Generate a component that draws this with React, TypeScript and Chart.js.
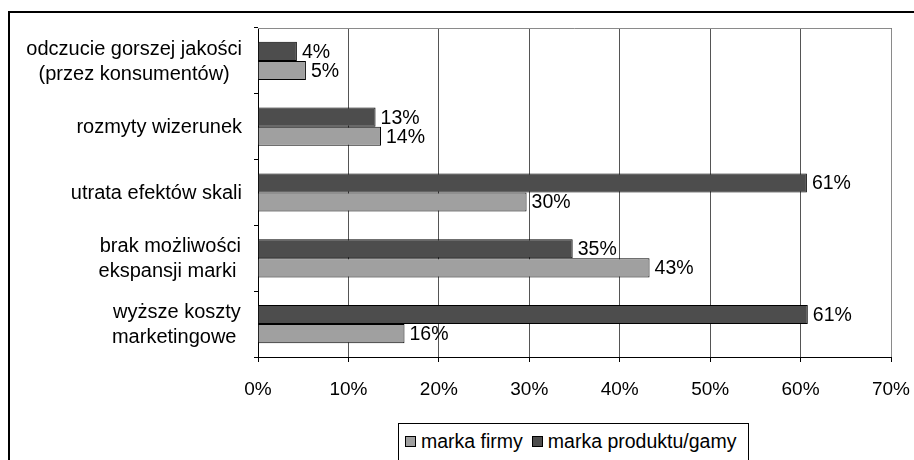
import React, { useEffect, useRef } from "react";
import { Chart, registerables } from "chart.js";

Chart.register(...registerables);

// Categories (multi-line labels, top to bottom)
const categories: string[][] = [
  ["odczucie gorszej jakości", "(przez konsumentów)"],
  ["rozmyty wizerunek"],
  ["utrata efektów skali"],
  ["brak możliwości", "ekspansji marki "],
  ["wyższe koszty", "marketingowe "],
];

// Share of answers, %
const productBrand: number[] = [4.3, 13.0, 60.7, 34.8, 60.8]; // marka produktu/gamy
const companyBrand: number[] = [5.3, 13.6, 29.7, 43.3, 16.2]; // marka firmy

const seriesNames = { company: "marka firmy", product: "marka produktu/gamy" };
const seriesColors = { company: "#a0a0a0", product: "#4d4d4d" };

const xMin = 0;
const xMax = 70;
const xStep = 10;

const FONT = "'Liberation Sans', Arial, sans-serif";

const valueLabels = {
  id: "valueLabels",
  afterDatasetsDraw(chart: any) {
    const ctx = chart.ctx;
    ctx.save();
    ctx.font = `19.5px ${FONT}`;
    ctx.fillStyle = "#000";
    ctx.textAlign = "left";
    ctx.textBaseline = "middle";
    chart.data.datasets.forEach((ds: any, di: number) => {
      const meta = chart.getDatasetMeta(di);
      meta.data.forEach((bar: any, i: number) => {
        const v = ds.data[i] as number;
        ctx.fillText(`${Math.round(v)}%`, bar.x + 5, bar.y + 1);
      });
    });
    ctx.restore();
  },
};

const categoryLabels = {
  id: "categoryLabels",
  afterDraw(chart: any) {
    const ctx = chart.ctx;
    const yScale = chart.scales.y;
    const right = chart.chartArea.left - 16;
    const lh = 25;
    ctx.save();
    ctx.font = `20px ${FONT}`;
    ctx.fillStyle = "#000";
    ctx.textAlign = "center";
    ctx.textBaseline = "middle";
    categories.forEach((lines, i) => {
      const y = yScale.getPixelForTick(i);
      const maxW = Math.max(...lines.map((l) => ctx.measureText(l).width));
      const cx = right - maxW / 2;
      const y0 = y - ((lines.length - 1) * lh) / 2 + 1;
      lines.forEach((l, k) => ctx.fillText(l, cx, y0 + k * lh));
    });
    ctx.restore();
  },
};

const plotFrame = {
  id: "plotFrame",
  beforeDatasetsDraw(chart: any) {
    const { ctx, chartArea } = chart;
    ctx.save();
    ctx.strokeStyle = "#8a8a8a";
    ctx.lineWidth = 1;
    ctx.beginPath();
    ctx.moveTo(chartArea.left, chartArea.top + 0.5);
    ctx.lineTo(chartArea.right + 0.5, chartArea.top + 0.5);
    ctx.lineTo(chartArea.right + 0.5, chartArea.bottom);
    ctx.stroke();
    ctx.restore();
  },
};

export default function App() {
  const canvasRef = useRef<HTMLCanvasElement | null>(null);

  useEffect(() => {
    if (!canvasRef.current) return;
    const chart = new Chart(canvasRef.current, {
      type: "bar",
      data: {
        labels: categories.map((c) => c.join(" ")),
        datasets: [
          {
            label: seriesNames.product,
            data: productBrand,
            backgroundColor: seriesColors.product,
            borderColor: "#000",
            borderWidth: 1,
            categoryPercentage: 0.58,
            barPercentage: 1,
          },
          {
            label: seriesNames.company,
            data: companyBrand,
            backgroundColor: seriesColors.company,
            borderColor: "#000",
            borderWidth: 1,
            categoryPercentage: 0.58,
            barPercentage: 1,
          },
        ],
      },
      options: {
        indexAxis: "y",
        responsive: false,
        animation: false,
        devicePixelRatio: 1,
        layout: { padding: { left: 0, right: 23, top: 28, bottom: 0 } },
        plugins: {
          legend: { display: false },
          tooltip: { enabled: false },
        },
        scales: {
          x: {
            position: "bottom",
            min: xMin,
            max: xMax,
            ticks: {
              stepSize: xStep,
              color: "#000",
              font: { family: FONT, size: 19 },
              padding: 16,
              callback: (v: any) => `${v}%`,
            },
            grid: {
              color: "#555",
              tickColor: "#000",
              tickLength: 5,
              lineWidth: 1,
            },
            border: { color: "#000", width: 1 },
            afterFit: (scale: any) => {
              scale.height = 103;
              scale.paddingLeft = 0;
              scale.paddingRight = 0;
            },
          },
          y: {
            ticks: { display: false },
            grid: {
              drawOnChartArea: false,
              offset: true,
              tickLength: 4,
              tickColor: "#000",
            },
            border: { color: "#000", width: 1 },
            afterFit: (scale: any) => {
              scale.width = 258;
            },
          },
        },
      },
      plugins: [plotFrame, valueLabels, categoryLabels],
    });
    return () => chart.destroy();
  }, []);

  const legendItems = [
    { name: seriesNames.company, color: seriesColors.company },
    { name: seriesNames.product, color: seriesColors.product },
  ];

  return (
    <div
      style={{
        position: "fixed",
        left: 0,
        top: 0,
        width: 914,
        height: 460,
        overflow: "hidden",
        background: "#fff",
      }}
    >
      <div
        style={{
          position: "absolute",
          left: 8,
          top: 11,
          width: 906,
          height: 460,
          borderLeft: "2px solid #000",
          borderTop: "2px solid #000",
          boxSizing: "border-box",
        }}
      />
      <canvas
        ref={canvasRef}
        width={914}
        height={460}
        style={{ position: "absolute", left: 0, top: 0, display: "block" }}
      />
      <div
        style={{
          position: "absolute",
          left: 398,
          top: 423,
          width: 351,
          height: 45,
          border: "1px solid #000",
          boxSizing: "border-box",
          display: "flex",
          alignItems: "flex-start",
          paddingTop: 5,
          paddingLeft: 6,
          fontFamily: FONT,
          fontSize: 19.5,
          lineHeight: "24px",
          color: "#000",
          background: "#fff",
        }}
      >
        {legendItems.map((it, i) => (
          <div
            key={it.name}
            style={{ display: "flex", alignItems: "center", marginRight: i === 0 ? 9 : 0 }}
          >
            <span
              style={{
                display: "inline-block",
                width: 11,
                height: 11,
                border: "1px solid #000",
                background: it.color,
                marginRight: 5,
                boxSizing: "border-box",
              }}
            />
            <span>{it.name}</span>
          </div>
        ))}
      </div>
    </div>
  );
}
